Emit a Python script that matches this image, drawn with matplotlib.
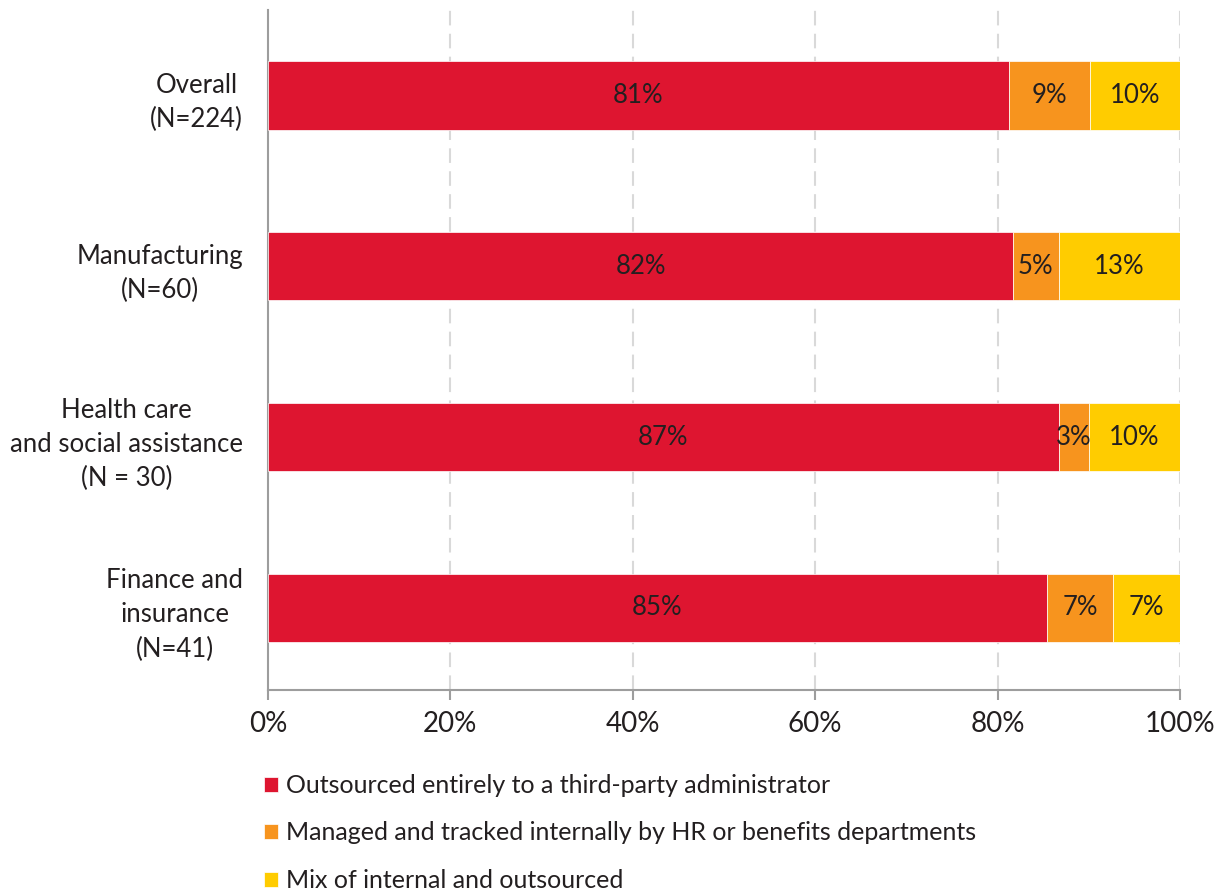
import matplotlib.pyplot as plt
import numpy as np

plt.rcParams["font.family"] = ["Lato", "DejaVu Sans"]

# Share of respondents by how leave administration is handled (%)
groups = ["Overall\n(N=224)", "Manufacturing\n(N=60)",
          "Health care\nand social assistance\n(N = 30)",
          "Finance and\ninsurance\n(N=41)"]
outsourced = [81.25, 81.7, 86.7, 85.4]
internal = [8.9, 5.0, 3.3, 7.3]
mixed = [9.8, 13.3, 10.0, 7.3]

series = [
    ("Outsourced entirely to a third-party administrator", outsourced, "#DE1530"),
    ("Managed and tracked internally by HR or benefits departments", internal, "#F7941E"),
    ("Mix of internal and outsourced", mixed, "#FFCC00"),
]

fig = plt.figure(figsize=(12.2, 8.91), dpi=100)
ax = fig.add_axes([268 / 1220, 1 - 690 / 891, 912 / 1220, 680 / 891])

y = np.arange(len(groups))
left = np.zeros(len(groups))
for name, vals, color in series:
    vals = np.array(vals)
    bars = ax.barh(y, vals, left=left, height=0.4, color=color,
                   edgecolor="white", linewidth=0.5, label=name, zorder=3)
    for b, v in zip(bars, vals):
        ax.text(b.get_x() + b.get_width() / 2, b.get_y() + b.get_height() / 2,
                f"{v:.0f}%", ha="center", va="center", fontsize=18.5,
                color="#231F20", zorder=4)
    left += vals

ax.set_xlim(0, 100)
ax.set_ylim(3.48, -0.5)
ax.set_xticks(range(0, 101, 20))
ax.set_xticklabels([f"{t}%" for t in range(0, 101, 20)])
ax.set_yticks(y)
ax.set_yticklabels(groups, linespacing=1.45)
for lbl in ax.get_yticklabels():
    lbl.set_multialignment("center")

ax.tick_params(axis="x", length=7, width=1.5, color="#9D9D9D", pad=8,
               labelsize=20, labelcolor="#231F20")
ax.tick_params(axis="y", length=0, pad=18, labelsize=18.5, labelcolor="#231F20")

for side in ["top", "right"]:
    ax.spines[side].set_visible(False)
for side in ["left", "bottom"]:
    ax.spines[side].set_color("#9D9D9D")
    ax.spines[side].set_linewidth(1.5)

for t in range(20, 101, 20):
    ax.axvline(t, color="#D9D9D9", linewidth=1.5, linestyle=(0, (7, 4)), zorder=1)

fig.legend(loc="upper left", bbox_to_anchor=(264 / 1220, 1 - 774 / 891),
           frameon=False, fontsize=18, handlelength=0.55, handleheight=0.55,
           handletextpad=0.35, labelspacing=0.98, borderpad=0, borderaxespad=0,
           labelcolor="#231F20")

fig.savefig("out.png", dpi=100)
